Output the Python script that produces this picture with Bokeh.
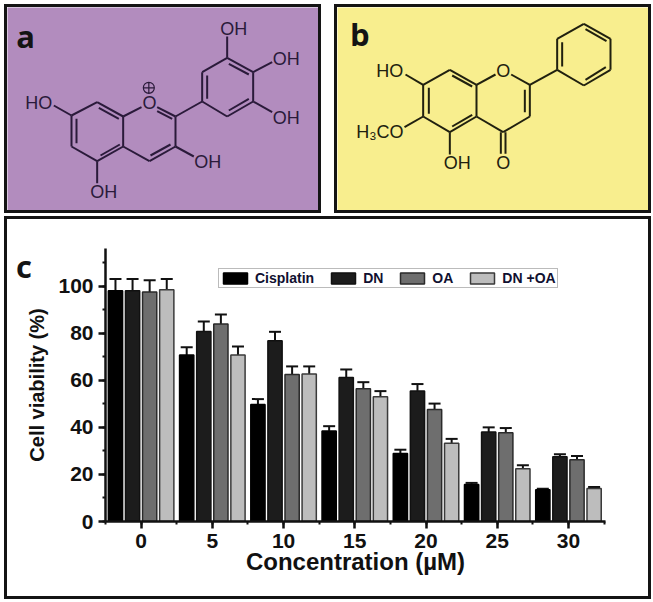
from bokeh.embed import file_html
from bokeh.resources import INLINE
from bokeh.plotting import figure
from bokeh.layouts import column, row
from bokeh.models import (ColumnDataSource, Range1d, SingleIntervalTicker, Whisker, TeeHead,
                          Legend, LegendItem, Div)
from bokeh.core.properties import value

concentrations = [0, 5, 10, 15, 20, 25, 30]
series_names = ["Cisplatin", "DN", "OA", "DN +OA"]
cisplatin = [98, 70.8, 49.7, 38.5, 28.9, 15.7, 13.5]
dn = [98, 80.7, 76.8, 61.2, 55.5, 38, 27.5]
oa = [97.5, 83.9, 62.5, 56.4, 47.6, 37.7, 26.2]
dn_oa = [98.5, 70.8, 62.7, 53, 33.3, 22.4, 14]
cisplatin_top = [103, 74, 52, 40.5, 30.5, 16.4, 13.9]
dn_top = [103, 85, 80.6, 64.6, 58.4, 40, 28.6]
oa_top = [102.5, 88, 65.9, 59.2, 50.1, 39.7, 27.8]
dn_oa_top = [103, 74.4, 65.9, 55.4, 35.1, 23.9, 14.7]

bar_offsets = [-1.8, -0.6, 0.6, 1.8]
bar_fills = ["#000000", "#1c1c1c", "#6e6e6e", "#bdbdbd"]
bar_lines = ["#000000", "#111111", "#2a2a2a", "#3a3a3a"]

# Panel a structure, in panel drawing units
a_bonds = [
    (213,345,290,305),(290,305,368,348),(368,348,368,438),(368,438,290,482),(290,482,213,438),(213,438,213,345),
    (228,355,228,428),(295,322,355,355),(300,465,358,432),
    (368,348,423,320),(470,320,525,348),(470,332,515,355),(525,348,525,438),(525,438,447,482),(450,465,510,432),(447,482,368,438),
    (213,345,160,315),(290,482,290,548),(525,438,580,468),(525,348,605,303),
    (605,303,605,215),(605,215,680,172),(680,172,758,215),(758,215,758,303),(758,303,680,348),(680,348,605,303),
    (620,295,620,225),(685,190,745,222),(745,295,685,330),
    (680,172,680,108),(758,215,815,185),(758,303,815,335),
]
a_labels = [("HO",115,308),("O",447,308),("OH",310,573),("OH",622,485),("OH",700,85),("OH",857,175),("OH",857,352)]
# Panel b structure
b_bonds = [
    (278,253,358,208),(358,208,438,253),(438,253,438,348),(438,348,358,395),(358,395,278,348),(278,348,278,253),
    (295,262,295,340),(365,225,425,258),(425,343,365,378),
    (438,253,495,222),(542,222,598,253),(598,253,598,348),(583,268,583,335),(598,348,518,395),(518,395,438,348),
    (511,395,511,460),(525,395,525,460),(358,395,358,462),(278,253,225,222),(278,348,222,380),(598,253,680,208),
    (680,208,680,115),(680,115,760,70),(760,70,840,115),(840,115,840,208),(840,208,760,255),(760,255,680,208),
    (695,125,695,198),(765,86,828,122),(826,200,765,238),
]
b_labels = [("HO",178,210),("O",518,210),("OH",380,488),("O",518,488),("H\u2083CO",148,395)]


def panel(bg, bonds, labels, letter, letter_x, letter_y, ink):
    p = figure(width=317, height=209, x_range=Range1d(21, 972), y_range=Range1d(648, 21),
               output_backend="svg", toolbar_location=None, min_border=0,
               background_fill_color=bg, border_fill_color=bg,
               styles={"border": "3px solid #141414", "box-sizing": "border-box"})
    p.axis.visible = False
    p.grid.visible = False
    p.outline_line_color = None
    p.segment([b[0] for b in bonds], [b[1] for b in bonds], [b[2] for b in bonds], [b[3] for b in bonds],
              line_color=ink, line_width=2)
    p.text([l[1] for l in labels], [l[2] for l in labels], text=[l[0] for l in labels],
           text_font=value("Liberation Sans"), text_font_size="18px", text_color=ink,
           text_align="center", text_baseline="middle")
    p.text([letter_x], [letter_y], text=[letter], text_font=value("Open Sans"), text_font_style="bold",
           text_font_size="31px", text_color="#141414", text_align="center", text_baseline="middle")
    return p


pa = panel("#b28cbe", a_bonds, a_labels, "a", 75, 105, "#2a1a3a")
pa.scatter([445], [262], marker="circle_cross", size=11, fill_color=None, line_color="#2a1a3a", line_width=1.2)
pb = panel("#f8ee8e", b_bonds, b_labels, "b", 88, 100, "#20200f")
pb.margin = (0, 0, 0, 13)

pc = figure(width=647, height=383, x_range=Range1d(-2.5, 32.6), y_range=Range1d(0, 116),
            output_backend="svg", toolbar_location=None,
            min_border_left=98, min_border_right=49, min_border_top=29, min_border_bottom=81,
            background_fill_color="white", border_fill_color="white",
            styles={"border": "3px solid #141414", "box-sizing": "border-box"})
pc.margin = (3, 0, 0, 0)
pc.grid.visible = False
pc.outline_line_color = None

items = []
for name, off, vals, tops, fill, line in zip(series_names, bar_offsets, [cisplatin, dn, oa, dn_oa],
                                             [cisplatin_top, dn_top, oa_top, dn_oa_top], bar_fills, bar_lines):
    src = ColumnDataSource(dict(x=[c + off for c in concentrations], top=vals, upper=tops))
    pc.add_layout(Whisker(source=src, base="x", lower="top", upper="upper", line_color="#111111", line_width=2,
                          upper_head=TeeHead(size=12, line_color="#111111", line_width=2), lower_head=None,
                          level="underlay"))
    r = pc.vbar(x="x", top="top", bottom=0, width=1.0, source=src, fill_color=fill, line_color=line, line_width=1.5)
    items.append(LegendItem(label=name, renderers=[r]))

legend = Legend(items=items, orientation="horizontal", location=(113, 233), glyph_width=30, glyph_height=14,
                label_standoff=5, spacing=14, padding=1, margin=0, border_line_color="#777777", border_line_width=1.5,
                label_text_font="Liberation Sans", label_text_font_style="bold", label_text_font_size="14px",
                label_text_color="#101030", background_fill_alpha=1)
pc.add_layout(legend)

for ax in (pc.xaxis[0], pc.yaxis[0]):
    ax.axis_line_width = 2.5
    ax.axis_line_color = "#111111"
    ax.major_tick_line_width = 2.5
    ax.major_tick_line_color = "#111111"
    ax.minor_tick_line_width = 2
    ax.minor_tick_line_color = "#111111"
    ax.major_tick_in = 0
    ax.minor_tick_in = 0
    ax.major_tick_out = 7
    ax.minor_tick_out = 3
    ax.major_label_text_font = "Liberation Sans"
    ax.major_label_text_font_style = "bold"
    ax.major_label_text_font_size = "21px"
    ax.major_label_text_color = "#111111"
    ax.axis_label_text_font = "Liberation Sans"
    ax.axis_label_text_font_style = "bold"
    ax.axis_label_text_color = "#111111"
pc.xaxis[0].ticker = SingleIntervalTicker(interval=5, num_minor_ticks=2)
pc.yaxis[0].ticker = SingleIntervalTicker(interval=20, num_minor_ticks=2)
pc.xaxis[0].axis_label = "Concentration (\u00b5M)"
pc.xaxis[0].axis_label_text_font_size = "24px"
pc.xaxis[0].axis_label_standoff = -3
pc.yaxis[0].axis_label = "Cell viability (%)"
pc.yaxis[0].axis_label_text_font_size = "20px"
pc.yaxis[0].axis_label_standoff = 7

letter_c = Div(text="c", width=30, height=42, margin=(-354, 0, 0, 12),
               styles={"font-family": "Open Sans", "font-weight": "bold", "font-size": "31px",
                       "color": "#141414", "line-height": "42px", "z-index": "5"})

page = column(row(pa, pb, spacing=0), pc, letter_c, spacing=0, margin=(4, 0, 0, 4))
open("out.html", "w").write(file_html(page, INLINE))
